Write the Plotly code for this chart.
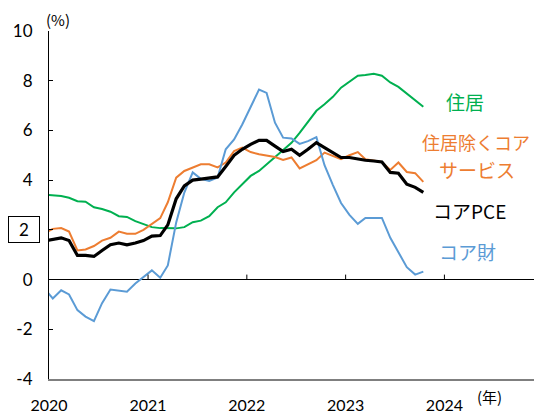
import pandas as pd
import plotly.graph_objects as go

# Monthly data, Dec 2019 - Oct 2023 (YoY %, plotted at mid-month)
months = pd.date_range("2019-12-01", "2023-10-01", freq="MS")

housing = [3.42, 3.40, 3.36, 3.29, 3.15, 3.13, 2.91, 2.84, 2.73, 2.55, 2.52, 2.35, 2.24,
           2.11, 2.07, 2.07, 2.06, 2.11, 2.31, 2.37, 2.55, 2.91, 3.11, 3.51, 3.84,
           4.17, 4.37, 4.63, 4.90, 5.20, 5.50, 5.90, 6.34, 6.79, 7.05, 7.35, 7.72,
           7.97, 8.20, 8.23, 8.28, 8.20, 7.93, 7.75, 7.48, 7.20, 6.95]

services_ex_housing = [1.86, 2.04, 2.07, 1.93, 1.17, 1.21, 1.35, 1.57, 1.68, 1.93, 1.84, 1.84, 2.00,
                       2.24, 2.47, 3.11, 4.10, 4.37, 4.51, 4.64, 4.64, 4.51, 4.71, 5.17, 5.31,
                       5.13, 5.04, 5.00, 4.93, 4.81, 4.91, 4.47, 4.65, 4.80, 5.11, 4.97, 4.84,
                       5.00, 5.13, 4.84, 4.77, 4.73, 4.41, 4.71, 4.33, 4.28, 3.93]

core_pce = [1.55, 1.60, 1.68, 1.57, 0.97, 0.97, 0.93, 1.17, 1.40, 1.47, 1.40, 1.47, 1.57,
            1.75, 1.77, 2.20, 3.25, 3.77, 4.00, 4.04, 4.07, 4.13, 4.55, 5.00, 5.24,
            5.44, 5.60, 5.60, 5.37, 5.15, 5.24, 5.00, 5.24, 5.51, 5.31, 5.11, 4.91,
            4.91, 4.84, 4.80, 4.77, 4.73, 4.31, 4.28, 3.84, 3.71, 3.51]

core_goods = [-0.36, -0.76, -0.43, -0.60, -1.23, -1.49, -1.67, -0.95, -0.40, -0.45, -0.49, -0.16, 0.11,
              0.37, 0.07, 0.57, 2.30, 3.50, 4.31, 4.05, 3.97, 4.11, 5.24, 5.64, 6.24,
              6.91, 7.64, 7.51, 6.31, 5.71, 5.68, 5.46, 5.57, 5.73, 4.60, 3.80, 3.08,
              2.60, 2.24, 2.48, 2.48, 2.48, 1.68, 1.10, 0.50, 0.20, 0.32]

years = [2020, 2021, 2022, 2023, 2024]
y_ticks = [-4, -2, 0, 2, 4, 6, 8, 10]

x = months + pd.Timedelta(days=14)

LATIN = "Lato, 'Noto Sans CJK JP', sans-serif"
CJK = "'Noto Sans CJK JP', sans-serif"

fig = go.Figure()
series = [
    ("住居", housing, "#00B050", 2),
    ("住居除くコアサービス", services_ex_housing, "#ED7D31", 2),
    ("コア財", core_goods, "#5B9BD5", 2),
    ("コアPCE", core_pce, "#000000", 3.2),
]
for name, vals, col, w in series:
    fig.add_trace(go.Scatter(x=x, y=vals, mode="lines", name=name,
                             line=dict(color=col, width=w), showlegend=False))

year_dates = [f"{y}-01-01" for y in years]

fig.update_layout(
    width=534, height=413,
    margin=dict(l=49, r=0, t=31, b=34),
    paper_bgcolor="white", plot_bgcolor="white",
    font=dict(family=LATIN, size=17, color="black"),
    xaxis=dict(
        type="date",
        range=["2020-01-01", "2024-11-27"],
        tickvals=year_dates, ticktext=[str(y) for y in years],
        ticks="outside", ticklen=11, tickcolor="rgba(0,0,0,0)",
        showgrid=False, zeroline=False,
        showline=True, linecolor="#7f7f7f", linewidth=1.5,
        tickfont=dict(family=LATIN, size=16),
    ),
    yaxis=dict(
        range=[-4, 10], tickvals=y_ticks,
        ticktext=[str(v) if v != 2 else " " for v in y_ticks],
        ticks="inside", ticklen=4, tickcolor="black",
        showgrid=False, zeroline=True, zerolinecolor="black", zerolinewidth=1,
        showline=True, linecolor="black", linewidth=1.2,
        ticklabelstandoff=12,
        tickfont=dict(family=LATIN, size=17),
    ),
)

# year tick marks on the zero line
for d in year_dates[1:]:
    fig.add_shape(type="line", xref="x", yref="y", x0=d, x1=d, y0=0, y1=0.2,
                  line=dict(color="black", width=1))

# boxed "2" label
fig.add_annotation(xref="paper", yref="y", x=-0.0515, y=2, text="2", showarrow=False,
                   font=dict(family=LATIN, size=17, color="black"),
                   width=28, height=23, borderwidth=1, bordercolor="black", borderpad=1,
                   xanchor="center", yanchor="middle")

def lab(text, x, y, color, size=19, xanchor="center"):
    fig.add_annotation(xref="paper", yref="paper", x=x, y=y, text=text, showarrow=False,
                       font=dict(family=CJK, size=size, color=color),
                       xanchor=xanchor, yanchor="middle")

lab("住居", 0.858, 0.796, "#00B050")
lab("住居除くコア", 0.765, 0.681, "#ED7D31", size=18, xanchor="left")
lab("サービス", 0.882, 0.601, "#ED7D31")
lab("コアPCE", 0.868, 0.483, "#000000")
lab("コア財", 0.862, 0.365, "#5B9BD5")
lab("(%)", 0.0186, 1.032, "#000000", size=15)
lab("(年)", 0.909, -0.049, "#000000", size=15)

fig.write_html("out.html", config={"displayModeBar": False},
               post_script="document.body.style.margin='0';document.body.style.overflow='hidden';")
